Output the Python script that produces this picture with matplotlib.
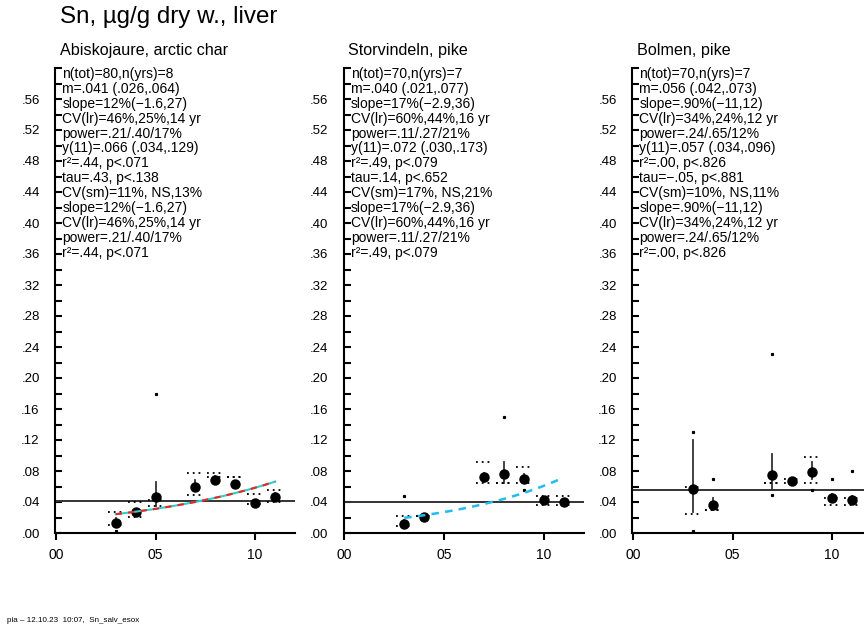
import matplotlib
matplotlib.use('Agg')
import matplotlib.pyplot as plt
import numpy as np
from matplotlib.ticker import MultipleLocator, FuncFormatter

plt.rcParams['font.family'] = ['Liberation Sans', 'DejaVu Sans']

title = 'Sn, µg/g dry w., liver'
footer = 'pia – 12.10.23  10:07,  Sn_salv_esox'

sites = ['Abiskojaure, arctic char', 'Storvindeln, pike', 'Bolmen, pike']

# yearly geometric means (year = 2000 + x)
years = [[3, 4, 5, 7, 8, 9, 10, 11],
         [3, 4, 7, 8, 9, 10, 11],
         [3, 4, 7, 8, 9, 10, 11]]
means = [[.013, .027, .046, .060, .068, .063, .039, .047],
         [.012, .021, .072, .076, .070, .043, .040],
         [.057, .036, .075, .067, .079, .045, .043]]
overall_mean = [.041, .040, .056]

# 95% interval lines per year
ci_lo = [[.008, .022, .035, .055, .063, .060, .036, .043],
         [.008, .019, .066, .065, .066, .040, .037],
         [.027, .030, .057, .064, .070, .041, .039]]
ci_hi = [[.020, .031, .066, .068, .073, .067, .042, .052],
         [.017, .024, .078, .092, .076, .047, .044],
         [.120, .045, .102, .070, .092, .050, .048]]

# dotted spread lines per year (low, high)
spread_lo = [[.010, .021, .035, .049, .072, .072, .037, .040],
             [.009, .022, .064, .064, .064, .036, .036],
             [.025, .030, .064, .064, .064, .036, .036]]
spread_hi = [[.027, .040, .042, .077, .078, .072, .050, .056],
             [.022, .022, .092, .064, .085, .048, .048],
             [.060, .030, .064, .070, .098, .045, .045]]

# single extreme values
extreme_x = [[3, 5], [3, 8, 9], [3, 3, 4, 7, 7, 9, 10, 11]]
extreme_y = [[.003, .180], [.048, .150, .055], [.130, .003, .070, .231, .049, .055, .070, .080]]

stats = [
    ['n(tot)=80,n(yrs)=8', 'm=.041 (.026,.064)', 'slope=12%(\u22121.6,27)',
     'CV(lr)=46%,25%,14 yr', 'power=.21/.40/17%', 'y(11)=.066 (.034,.129)',
     'r\u00b2=.44, p<.071', 'tau=.43, p<.138', 'CV(sm)=11%, NS,13%',
     'slope=12%(\u22121.6,27)', 'CV(lr)=46%,25%,14 yr', 'power=.21/.40/17%',
     'r\u00b2=.44, p<.071'],
    ['n(tot)=70,n(yrs)=7', 'm=.040 (.021,.077)', 'slope=17%(\u22122.9,36)',
     'CV(lr)=60%,44%,16 yr', 'power=.11/.27/21%', 'y(11)=.072 (.030,.173)',
     'r\u00b2=.49, p<.079', 'tau=.14, p<.652', 'CV(sm)=17%, NS,21%',
     'slope=17%(\u22122.9,36)', 'CV(lr)=60%,44%,16 yr', 'power=.11/.27/21%',
     'r\u00b2=.49, p<.079'],
    ['n(tot)=70,n(yrs)=7', 'm=.056 (.042,.073)', 'slope=.90%(\u221211,12)',
     'CV(lr)=34%,24%,12 yr', 'power=.24/.65/12%', 'y(11)=.057 (.034,.096)',
     'r\u00b2=.00, p<.826', 'tau=\u2212.05, p<.881', 'CV(sm)=10%, NS,11%',
     'slope=.90%(\u221211,12)', 'CV(lr)=34%,24%,12 yr', 'power=.24/.65/12%',
     'r\u00b2=.00, p<.826'],
]
trend_style = ['redcyan', 'cyan', None]

W, H = 864, 627
fig = plt.figure(figsize=(W / 100, H / 100), dpi=100)
lefts = [55, 343.5, 632]

fig.text(60 / W, 1 - 17 / H, title, fontsize=17.4, va='center', ha='left')
fig.text(7 / W, 1 - 621 / H, footer, fontsize=5.8, va='center', ha='left')

for k in range(3):
    ax = fig.add_axes([lefts[k] / W, 94 / H, 240 / W, 465 / H])
    ax.set_xlim(-0.05, 12)
    ax.set_ylim(0, 0.6)
    for s in ['top', 'right']:
        ax.spines[s].set_visible(False)
    for s in ['left', 'bottom']:
        ax.spines[s].set_linewidth(1.5)
    ax.yaxis.set_major_locator(MultipleLocator(0.04))
    ax.yaxis.set_minor_locator(MultipleLocator(0.02))
    ax.yaxis.set_major_formatter(FuncFormatter(
        lambda v, p: ('%.2f' % v)[1:] if v < 0.575 else ''))
    ax.set_xticks([0, 5, 10])
    ax.set_xticklabels(['00', '05', '10'])
    ax.tick_params(axis='y', which='both', direction='in', length=4.8, width=1.5,
                   labelsize=9.5, pad=11)
    ax.tick_params(axis='x', direction='out', length=5, width=1.5, labelsize=10, pad=6)

    yr = np.array(years[k], dtype=float)
    mn = np.array(means[k])

    ax.axhline(overall_mean[k], color='#333333', lw=1.4, zorder=2)

    for i in range(len(yr)):
        ax.plot([yr[i], yr[i]], [ci_lo[k][i], ci_hi[k][i]], color='#333333',
                lw=1.3, zorder=3)
        for lev in (spread_lo[k][i], spread_hi[k][i]):
            ax.plot([yr[i] - 0.4, yr[i] + 0.4], [lev, lev], color='black',
                    lw=1.3, ls=(0, (1, 2.2)), zorder=3)
    ax.plot(extreme_x[k], extreme_y[k], ls='none', marker='s', ms=1.3,
            color='black', zorder=3)
    ax.plot(yr, mn, ls='none', marker='o', ms=6.5, color='black', zorder=4)

    if trend_style[k] is not None:
        b, a = np.polyfit(yr, np.log(mn), 1)
        xs = np.linspace(yr[0], yr[-1], 60)
        ys = np.exp(a + b * xs)
        if trend_style[k] == 'redcyan':
            ax.plot(xs, ys, color='#33cccc', lw=1.5, zorder=5)
            ax.plot(xs, ys, color='#ee2222', lw=1.5, ls=(0, (3, 3)), zorder=6)
        else:
            ax.plot(xs, ys, color='#22bbee', lw=1.8, ls=(0, (3, 2.5)), zorder=5)

    ax.text(0.02, 1 + 18 / 465, sites[k], transform=ax.transAxes, fontsize=11.6,
            va='center', ha='left')
    for j, line in enumerate(stats[k]):
        ax.annotate(line, xy=(0, 1), xycoords='axes fraction',
                    xytext=(5.2, -(6 + j * 14.9) / 1.389), textcoords='offset points',
                    fontsize=10, va='center', ha='left')

fig.savefig('out.png', dpi=100)
